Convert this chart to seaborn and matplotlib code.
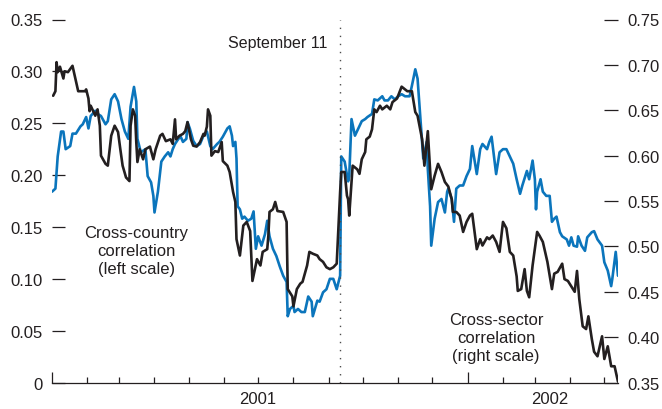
import pandas as pd
import seaborn as sns
import matplotlib
matplotlib.use("Agg")
import matplotlib.pyplot as plt
import matplotlib.dates as mdates

START = "2001-01-01"
END = "2002-05-13"
SEPT_11 = "2001-09-11"

# Cross-country correlation (left scale): days since START and values
country_days = [
    0, 3, 5, 8, 10, 12, 16, 18, 21, 25,
    27, 30, 32, 34, 38, 40, 43, 47, 49, 52,
    55, 58, 61, 64, 67, 69, 72, 74, 75, 78,
    82, 84, 87, 89, 90, 93, 96, 99, 102, 104,
    106, 108, 111, 113, 115, 118, 119, 121, 124, 127,
    130, 133, 136, 139, 141, 145, 147, 150, 154, 156,
    158, 159, 161, 162, 163, 165, 167, 169, 172, 175,
    177, 179, 181, 184, 187, 189, 191, 194, 197, 200,
    203, 206, 207, 209, 212, 213, 216, 219, 222, 225,
    228, 229, 233, 235, 238, 241, 244, 247, 250, 253,
    254, 257, 260, 261, 263, 266, 269, 272, 275, 277,
    281, 283, 286, 290, 292, 295, 298, 301, 304, 307,
    310, 314, 316, 319, 321, 325, 326, 329, 330, 332,
    333, 336, 339, 342, 345, 347, 348, 351, 353, 355,
    358, 361, 364, 367, 369, 373, 376, 378, 382, 384,
    386, 387, 390, 393, 396, 399, 402, 405, 408, 411,
    413, 417, 419, 422, 424, 425, 426, 429, 431, 434,
    437, 439, 441, 443, 446, 448, 452, 454, 456, 458,
    461, 462, 465, 468, 470, 474, 476, 479, 483, 485,
    488, 491, 492, 495, 497,
]
country_corr = [
    0.184, 0.187, 0.218, 0.242, 0.242, 0.225, 0.228, 0.240, 0.240, 0.247,
    0.249, 0.256, 0.245, 0.257, 0.262, 0.259, 0.257, 0.249, 0.252, 0.273,
    0.278, 0.271, 0.254, 0.242, 0.235, 0.266, 0.285, 0.271, 0.235, 0.222,
    0.225, 0.199, 0.193, 0.180, 0.164, 0.184, 0.213, 0.218, 0.222, 0.218,
    0.225, 0.230, 0.235, 0.237, 0.232, 0.235, 0.251, 0.245, 0.233, 0.228,
    0.230, 0.238, 0.242, 0.228, 0.225, 0.230, 0.232, 0.237, 0.245, 0.247,
    0.238, 0.228, 0.232, 0.216, 0.170, 0.167, 0.158, 0.160, 0.156, 0.158,
    0.165, 0.129, 0.141, 0.132, 0.143, 0.156, 0.141, 0.129, 0.122, 0.112,
    0.103, 0.097, 0.064, 0.071, 0.074, 0.068, 0.071, 0.068, 0.068, 0.083,
    0.078, 0.064, 0.079, 0.078, 0.087, 0.090, 0.100, 0.100, 0.090, 0.103,
    0.218, 0.213, 0.194, 0.199, 0.254, 0.238, 0.245, 0.252, 0.254, 0.256,
    0.259, 0.273, 0.272, 0.276, 0.272, 0.272, 0.276, 0.273, 0.276, 0.278,
    0.276, 0.276, 0.286, 0.302, 0.293, 0.232, 0.216, 0.232, 0.206, 0.170,
    0.132, 0.158, 0.174, 0.177, 0.164, 0.184, 0.187, 0.177, 0.155, 0.187,
    0.190, 0.190, 0.199, 0.206, 0.228, 0.201, 0.225, 0.230, 0.225, 0.232,
    0.237, 0.228, 0.201, 0.222, 0.225, 0.225, 0.218, 0.211, 0.196, 0.182,
    0.190, 0.204, 0.196, 0.214, 0.196, 0.167, 0.184, 0.196, 0.184, 0.180,
    0.180, 0.155, 0.158, 0.160, 0.145, 0.141, 0.138, 0.132, 0.140, 0.132,
    0.131, 0.141, 0.132, 0.127, 0.140, 0.145, 0.146, 0.138, 0.132, 0.116,
    0.108, 0.093, 0.100, 0.126, 0.103,
]

# Cross-sector correlation (right scale)
sector_days = [
    1, 3, 4, 5, 7, 10, 11, 14, 18, 21,
    23, 29, 30, 32, 33, 34, 38, 40, 42, 43,
    47, 49, 52, 55, 58, 60, 62, 65, 68, 69,
    71, 73, 74, 75, 77, 80, 82, 86, 89, 91,
    95, 97, 100, 104, 106, 108, 109, 112, 115, 117,
    119, 122, 124, 127, 130, 133, 134, 136, 137, 139,
    140, 143, 146, 149, 150, 154, 156, 159, 161, 162,
    165, 168, 171, 174, 176, 180, 183, 185, 189, 190,
    191, 194, 196, 198, 203, 206, 207, 211, 212, 215,
    218, 220, 224, 226, 229, 233, 235, 238, 241, 244,
    247, 250, 253, 254, 257, 259, 260, 261, 264, 268,
    270, 272, 275, 276, 279, 281, 283, 285, 288, 290,
    294, 297, 299, 303, 307, 312, 316, 319, 321, 325,
    327, 330, 333, 336, 339, 342, 345, 348, 351, 352,
    355, 358, 361, 364, 367, 369, 373, 376, 378, 382,
    384, 387, 390, 393, 396, 399, 402, 405, 408, 409,
    412, 415, 417, 419, 422, 426, 428, 431, 435, 439,
    441, 444, 448, 450, 453, 456, 459, 461, 463, 466,
    469, 471, 474, 476, 479, 483, 485, 488, 491, 494,
    497,
]
sector_corr = [
    0.666, 0.671, 0.703, 0.692, 0.698, 0.685, 0.693, 0.692, 0.699, 0.682,
    0.671, 0.671, 0.673, 0.663, 0.649, 0.655, 0.644, 0.651, 0.633, 0.600,
    0.591, 0.589, 0.622, 0.633, 0.626, 0.607, 0.589, 0.576, 0.572, 0.633,
    0.651, 0.644, 0.615, 0.593, 0.607, 0.596, 0.607, 0.610, 0.596, 0.607,
    0.622, 0.624, 0.616, 0.618, 0.613, 0.640, 0.618, 0.622, 0.624, 0.627,
    0.637, 0.618, 0.611, 0.610, 0.615, 0.624, 0.622, 0.632, 0.651, 0.644,
    0.600, 0.605, 0.604, 0.615, 0.594, 0.589, 0.582, 0.560, 0.549, 0.508,
    0.490, 0.523, 0.527, 0.517, 0.462, 0.486, 0.479, 0.494, 0.497, 0.512,
    0.538, 0.541, 0.549, 0.539, 0.538, 0.527, 0.453, 0.445, 0.434, 0.453,
    0.459, 0.461, 0.479, 0.494, 0.492, 0.490, 0.486, 0.483, 0.477, 0.475,
    0.477, 0.481, 0.560, 0.582, 0.582, 0.556, 0.552, 0.534, 0.589, 0.585,
    0.580, 0.596, 0.604, 0.618, 0.621, 0.629, 0.651, 0.648, 0.655, 0.651,
    0.655, 0.651, 0.659, 0.663, 0.676, 0.671, 0.671, 0.648, 0.644, 0.618,
    0.589, 0.627, 0.563, 0.578, 0.591, 0.582, 0.571, 0.566, 0.552, 0.538,
    0.538, 0.534, 0.516, 0.527, 0.534, 0.536, 0.497, 0.508, 0.501, 0.510,
    0.508, 0.512, 0.505, 0.494, 0.527, 0.520, 0.494, 0.490, 0.467, 0.451,
    0.453, 0.475, 0.451, 0.444, 0.479, 0.516, 0.512, 0.505, 0.483, 0.453,
    0.470, 0.472, 0.481, 0.464, 0.462, 0.456, 0.450, 0.473, 0.442, 0.412,
    0.409, 0.423, 0.398, 0.384, 0.379, 0.401, 0.376, 0.390, 0.368, 0.368,
    0.351,
]

left_ticks = [0, 0.05, 0.10, 0.15, 0.20, 0.25, 0.30, 0.35]
left_labels = ["0", "0.05", "0.10", "0.15", "0.20", "0.25", "0.30", "0.35"]
right_ticks = [0.35, 0.40, 0.45, 0.50, 0.55, 0.60, 0.65, 0.70, 0.75]
right_labels = ["0.35", "0.40", "0.45", "0.50", "0.55", "0.60", "0.65", "0.70", "0.75"]
year_labels = ["2001", "2002"]
year_label_dates = ["2001-07-01", "2002-03-14"]

BLUE = "#0b75bc"
BLACK = "#231f20"
TEXT = "#231f20"


def to_dates(days):
    return pd.Timestamp(START) + pd.to_timedelta(days, unit="D")


def dnum(d):
    return mdates.date2num(pd.Timestamp(d))


sns.set_theme(style="white")
plt.rcParams["font.family"] = ["Liberation Sans", "DejaVu Sans"]

fig = plt.figure(figsize=(6.62, 4.10), dpi=100)
ax = fig.add_axes([52 / 662, 26.4 / 410, 566 / 662, 363.1 / 410])
ax2 = ax.twinx()

sns.lineplot(x=to_dates(country_days), y=country_corr, ax=ax,
             color=BLUE, linewidth=1.9, estimator=None)
sns.lineplot(x=to_dates(sector_days), y=sector_corr, ax=ax2,
             color=BLACK, linewidth=1.9, estimator=None)

ax.set_xlim(dnum(START), dnum(END))
ax.set_ylim(0, 0.35)
ax2.set_ylim(0.35, 0.75)
for a in (ax, ax2):
    a.set(xlabel="", ylabel="")
    a.grid(False)
    for s in ["top", "left", "right"]:
        a.spines[s].set_visible(False)
ax2.spines["bottom"].set_visible(False)
ax.spines["bottom"].set_color(TEXT)
ax.spines["bottom"].set_linewidth(0.9)

#y axes
ax.set_yticks(left_ticks)
ax.set_yticklabels(left_labels)
ax.tick_params(axis="y", left=True, direction="in", length=9.5, width=0.9,
               pad=6.5, labelsize=12, colors=TEXT)
ax2.set_yticks(right_ticks)
ax2.set_yticklabels(right_labels)
ax2.tick_params(axis="y", right=True, left=False, direction="in", length=10,
                width=0.9, pad=6.5, labelsize=12, colors=TEXT)

#x axis: month ticks, taller at year starts
ax.xaxis.set_major_locator(mdates.YearLocator())
ax.xaxis.set_minor_locator(mdates.MonthLocator())
ax.tick_params(axis="x", which="both", bottom=True, labelbottom=False,
               direction="in", width=0.9, color=TEXT)
ax.tick_params(axis="x", which="major", length=8)
ax.tick_params(axis="x", which="minor", length=4.3)
for lab, d in zip(year_labels, year_label_dates):
    ax.text(dnum(d), -0.045, lab, transform=ax.get_xaxis_transform(),
            ha="center", va="center", fontsize=12, color=TEXT)

#September 11 marker
ax.axvline(dnum(SEPT_11), color="#4d4d4d", linewidth=1, linestyle=(0, (1, 4.8)))
ax.text(dnum("2001-08-31"), 0.9355, "September 11", transform=ax.get_xaxis_transform(),
        ha="right", va="center", fontsize=11.5, color=TEXT)

ax.text(dnum("2001-03-16"), 0.127, "Cross-country\ncorrelation\n(left scale)",
        ha="center", va="center", fontsize=12, linespacing=1.25, color=TEXT)
ax2.text(dnum("2002-01-26"), 0.400, "Cross-sector\ncorrelation\n(right scale)",
         ha="center", va="center", fontsize=12, linespacing=1.25, color=TEXT)

fig.savefig("out.png", dpi=100)
plt.close("all")
